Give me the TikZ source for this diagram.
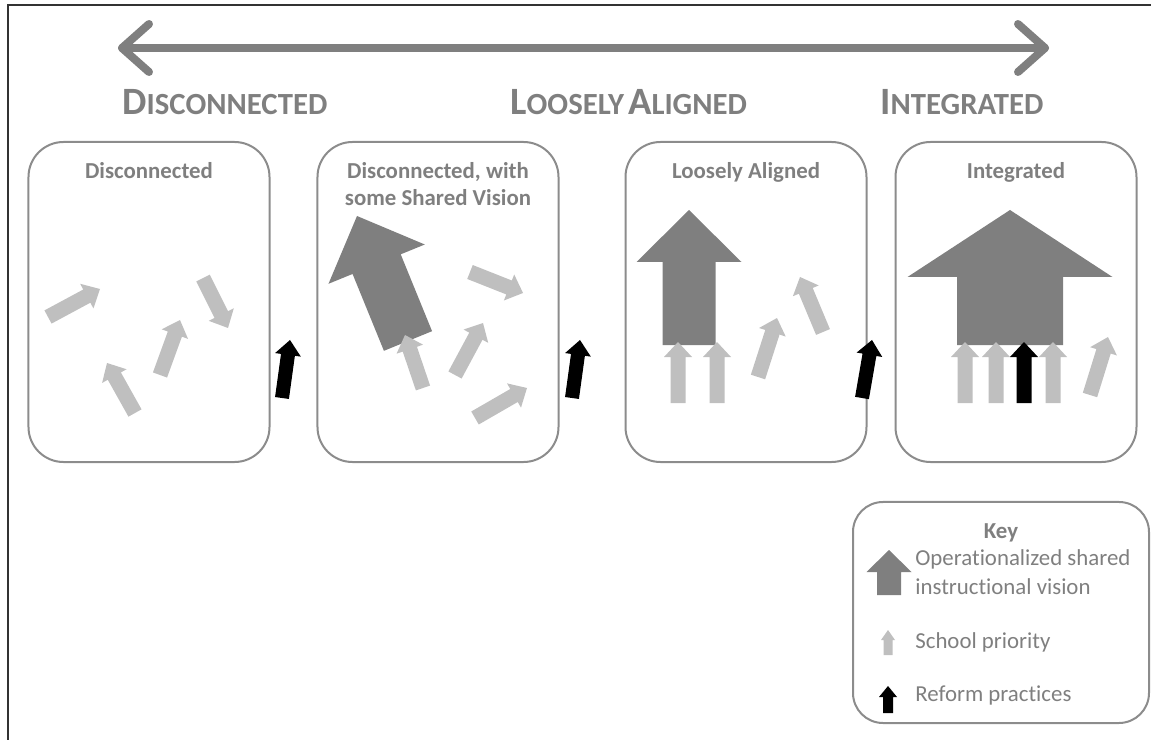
\documentclass[tikz,border=0pt]{standalone}
\usepackage{fontspec}
\setmainfont{Carlito}[Ligatures=CommonOff]
\usetikzlibrary{calc, positioning}
\definecolor{dgray}{RGB}{127,127,127}
\definecolor{lgray}{RGB}{191,191,191}
\definecolor{bordergray}{RGB}{140,140,140}
\definecolor{textgray}{RGB}{127,127,127}

% block arrow: style, tail, tip, half shaft, half head, head length (px)
\newcommand{\blockarrow}[6]{%
  \coordinate (hb) at ($(#3)!#6*0.2mm!(#2)$);
  \fill[#1] ($(#2)!#4*0.2mm!90:(#3)$) -- ($(hb)!#4*0.2mm!90:(#3)$)
    -- ($(hb)!#5*0.2mm!90:(#3)$) -- (#3) -- ($(hb)!#5*0.2mm!-90:(#3)$)
    -- ($(hb)!#4*0.2mm!-90:(#3)$) -- ($(#2)!#4*0.2mm!-90:(#3)$) -- cycle;}
\newcommand{\bigsc}[2]{{\fontsize{22}{24}\selectfont #1}{\fontsize{17.5}{20}\selectfont #2}}

\begin{document}
\begin{tikzpicture}[x=0.2mm, y=-0.2mm,
	panel/.style={draw=bordergray, line width=0.4mm, rounded corners=7mm,
		minimum width=48.2mm, minimum height=64mm},
	title/.style={text=textgray, font=\fontsize{13}{15.5}\selectfont\bfseries, align=center},
	heading/.style={text=textgray, font=\bfseries, anchor=base west, inner sep=0pt},
	keytext/.style={text=textgray, font=\fontsize{13}{16.5}\selectfont, anchor=west,
		inner sep=0pt, align=left},
	scaleline/.style={dgray, line width=1.6mm, line cap=round, line join=round},
	light/.style={fill=lgray}, dark/.style={fill=dgray}, reform/.style={fill=black}]
	\useasboundingbox (0,0) rectangle (1151,740);
	\draw[line width=0.4mm, black!80] (8,740) -- (8,5) -- (1151,5);
	
	% scale
	\coordinate (scaleL) at (122,48);
	\coordinate (scaleR) at (1045,48);
	\draw[scaleline] (scaleL) -- (scaleR);
	\draw[scaleline] ($(scaleL)+(27,-24)$) -- (scaleL) -- ($(scaleL)+(27,24)$);
	\draw[scaleline] ($(scaleR)+(-27,-24)$) -- (scaleR) -- ($(scaleR)+(-27,24)$);
	\node[heading] (h1) at (122,115) {\bigsc{D}{ISCONNECTED}};
	\node[heading] (h2) at (510,115) {\bigsc{L}{OOSELY} \bigsc{A}{LIGNED}};
	\node[heading] (h3) at (880,115) {\bigsc{I}{NTEGRATED}};
	
	% panels
	\node[panel] (p1) at (149,302) {};
	\node[panel] (p2) at (438,302) {};
	\node[panel] (p3) at (746,302) {};
	\node[panel] (p4) at (1016,302) {};
	\node[title, below=3mm of p1.north] (t1) {Disconnected};
	\node[title, below=3mm of p2.north] (t2) {Disconnected, with\\some Shared Vision};
	\node[title, below=3mm of p3.north] (t3) {Loosely Aligned};
	\node[title, below=3mm of p4.north] (t4) {Integrated};
	
	\blockarrow{light}{48,317}{100,289}{7.5}{14}{15}
	\blockarrow{light}{203,278}{228,328}{7.5}{14}{15}
	\blockarrow{light}{160,375}{180,320}{7.5}{14}{15}
	\blockarrow{light}{135,413}{107,363}{7.5}{14}{15}
	\blockarrow{reform}{282,398}{290,340}{7}{13}{15}
	
	\blockarrow{dark}{408,341}{357,216}{26}{52}{52}
	\blockarrow{light}{423,388}{405,335}{7.5}{14}{15}
	\blockarrow{light}{455,375}{483,323}{7.5}{14}{15}
	\blockarrow{light}{470,272}{523,293}{7.5}{14}{15}
	\blockarrow{light}{475,418}{527,388}{7.5}{14}{15}
	\blockarrow{reform}{572,398}{580,340}{7}{13}{15}
	
	\blockarrow{dark}{689,345}{689,210}{26.5}{52.5}{52}
	\blockarrow{light}{678,403}{678,342}{7.5}{14}{15}
	\blockarrow{light}{717,403}{717,342}{7.5}{14}{15}
	\blockarrow{light}{758,377}{777,318}{7.5}{14}{15}
	\blockarrow{light}{823,332}{800,277}{7.5}{14}{15}
	\blockarrow{reform}{862,398}{872,340}{7}{13}{15}
	
	\blockarrow{dark}{1010,345}{1010,210}{53}{102.5}{67}
	\blockarrow{light}{965,403}{965,342}{7.5}{14}{15}
	\blockarrow{light}{996,403}{996,342}{7.5}{14}{15}
	\blockarrow{reform}{1024,403}{1024,342}{7.5}{14}{15}
	\blockarrow{light}{1053,403}{1053,342}{7.5}{14}{15}
	\blockarrow{light}{1090,395}{1108,337}{7.5}{14}{15}
	
	% key
	\node[panel, minimum width=59.2mm, minimum height=44.2mm, rounded corners=6mm] (key) at (1001,612.5) {};
	\node[title, below=3.3mm of key.north] (keyt) {Key};
	\blockarrow{dark}{889,595}{889,550}{12}{22.5}{22}
	\blockarrow{light}{888,655}{888,630}{4.5}{7}{10}
	\blockarrow{reform}{888,713}{888,686}{5}{9}{11}
	\node[keytext] (k1) at (915,572.5) {Operationalized shared\\instructional vision};
	\node[keytext] (k2) at (915,642) {School priority};
	\node[keytext] (k3) at (915,695) {Reform practices};
\end{tikzpicture}
\end{document}
